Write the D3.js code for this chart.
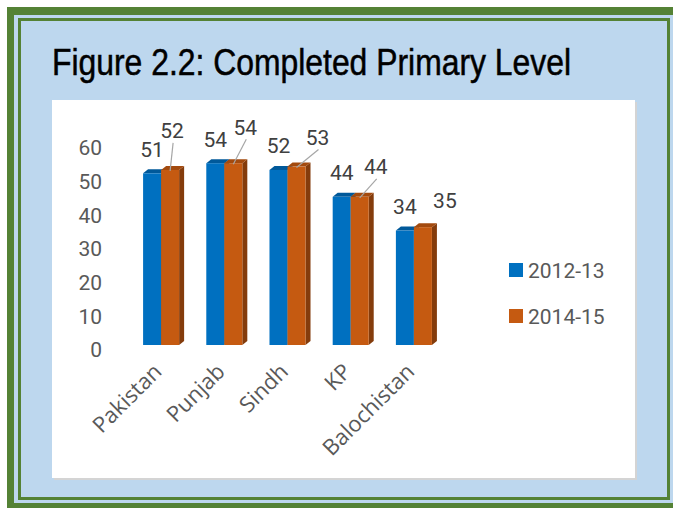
<!DOCTYPE html>
<html>
<head>
<meta charset="utf-8">
<script src="https://cdn.jsdelivr.net/npm/d3@7"></script>
<style>
  body { margin: 0; background: #fff; }
  svg { display: block; }
  .tick text { font-family: Roboto, sans-serif; font-size: 21px; fill: #595959; }
</style>
</head>
<body>
<div id="chart"></div>
<script>
// Chart data
var regions = ["Pakistan", "Punjab", "Sindh", "KP", "Balochistan"];
var years = ["2012-13", "2014-15"];
var values2012 = [51, 54, 52, 44, 34];
var values2014 = [52, 54, 53, 44, 35];
var yTicks = [0, 10, 20, 30, 40, 50, 60];

// Orange labels were dragged away from the bars in the original (dx, dy from bar top)
var orangeNudge = [[2, -39], [12, -36], [21, -29], [16, -30], [22, -27]];

var width = 673,
    height = 508,
    depthX = 5,
    depthY = 4;

var svg = d3.select("#chart").append("svg")
    .attr("width", width)
    .attr("height", height);

// Frame: outer green, light blue, thin green line, light blue panel
svg.append("rect")
    .attr("x", 7).attr("y", 7)
    .attr("width", 680).attr("height", 510)
    .style("fill", "#548235");
svg.append("rect")
    .attr("x", 14).attr("y", 15)
    .attr("width", 670).attr("height", 488)
    .style("fill", "#bdd7ee");
svg.append("rect")
    .attr("x", 19.5).attr("y", 19.5)
    .attr("width", 649).attr("height", 479)
    .style("fill", "#bdd7ee")
    .style("stroke", "#548235")
    .style("stroke-width", 3);

// Title (condensed face squeezed to the original width)
svg.append("text")
    .attr("x", 52)
    .attr("y", 75)
    .attr("textLength", 519)
    .attr("lengthAdjust", "spacingAndGlyphs")
    .style("font-family", "'Liberation Sans Narrow', 'Liberation Sans', sans-serif")
    .style("font-size", "36px")
    .style("fill", "#000")
    .style("stroke", "#000")
    .style("stroke-width", 0.5)
    .text("Figure 2.2: Completed Primary Level");

// White plot panel with light shadow
svg.append("rect")
    .attr("x", 54).attr("y", 102)
    .attr("width", 583).attr("height", 378)
    .style("fill", "#d4d4d4");
svg.append("rect")
    .attr("x", 52).attr("y", 100)
    .attr("width", 583).attr("height", 378)
    .style("fill", "#fff");

var x = d3.scaleBand()
    .domain(regions)
    .range([129.5, 445.5])
    .paddingInner(0.43)
    .paddingOuter(0.215);

var x1 = d3.scaleBand()
    .domain(years)
    .range([0, x.bandwidth()]);

var y = d3.scaleLinear()
    .domain([0, 60])
    .range([345, 143]);

var color = d3.scaleOrdinal()
    .domain(years)
    .range(["#0070c0", "#c55a11"]);
var topColor = d3.scaleOrdinal()
    .domain(years)
    .range(["#00599a", "#a34a0e"]);
var sideColor = d3.scaleOrdinal()
    .domain(years)
    .range(["#004a80", "#843c0c"]);

// y axis labels only
var yAxis = d3.axisLeft(y)
    .tickValues(yTicks)
    .tickSize(0)
    .tickPadding(0);

svg.append("g")
    .attr("transform", "translate(102,5)")
    .call(yAxis)
    .call(g => g.select(".domain").remove());

// rows of data
var rows = regions.map(function (r, i) {
    return { region: r, i: i, vals: [values2012[i], values2014[i]] };
});

var group = svg.selectAll(".region")
    .data(rows)
    .enter().append("g")
    .attr("class", "region")
    .attr("transform", d => "translate(" + x(d.region) + ",0)");

// blue first, orange drawn over its side face
group.each(function (d) {
    var g = d3.select(this);
    [0, 1].forEach(function (k) {
        var yr = years[k],
            v = d.vals[k],
            bx = x1(yr),
            bw = x1.bandwidth(),
            top = y(v),
            base = y(0);

        // side face
        g.append("path")
            .attr("d", "M" + (bx + bw) + "," + top +
                "L" + (bx + bw + depthX) + "," + (top - depthY) +
                "L" + (bx + bw + depthX) + "," + (base - depthY) +
                "L" + (bx + bw) + "," + base + "Z")
            .style("fill", sideColor(yr));
        // top face
        g.append("path")
            .attr("d", "M" + bx + "," + top +
                "L" + (bx + depthX) + "," + (top - depthY) +
                "L" + (bx + bw + depthX) + "," + (top - depthY) +
                "L" + (bx + bw) + "," + top + "Z")
            .style("fill", topColor(yr));
        // front face
        g.append("rect")
            .attr("x", bx)
            .attr("y", top)
            .attr("width", bw)
            .attr("height", base - top)
            .style("fill", color(yr));
    });

    // blue label straight above the bar
    var b0 = x1(years[0]) + x1.bandwidth() / 2;
    g.append("text")
        .attr("x", b0)
        .attr("y", y(d.vals[0]) - 24)
        .attr("dy", "0.36em")
        .attr("text-anchor", "middle")
        .style("font-family", "Roboto, sans-serif")
        .style("font-size", "21px")
        .style("fill", "#404040")
        .text(d.vals[0]);

    // orange label, nudged, with leader line
    var b1 = x1(years[1]) + x1.bandwidth() / 2,
        t1 = y(d.vals[1]),
        n = orangeNudge[d.i],
        lx = b1 + n[0],
        ly = t1 + n[1];
    if (d.i < regions.length - 1) {
        g.append("line")
            .attr("x1", lx + 1)
            .attr("y1", ly + 12)
            .attr("x2", b1)
            .attr("y2", t1 + 1)
            .style("stroke", "#a6a6a6")
            .style("stroke-width", 1.2);
    }
    g.append("text")
        .attr("x", lx)
        .attr("y", ly)
        .attr("dy", "0.36em")
        .attr("text-anchor", "middle")
        .style("font-family", "Roboto, sans-serif")
        .style("font-size", "21px")
        .style("fill", "#404040")
        .text(d.vals[1]);
});

// category labels rotated
svg.selectAll(".cat")
    .data(regions)
    .enter().append("text")
    .attr("class", "cat")
    .attr("text-anchor", "end")
    .attr("transform", d => "translate(" + (x(d) + x.bandwidth() / 2 + 2) + ",373) rotate(-45)")
    .style("font-family", "'Open Sans', sans-serif")
    .style("font-size", "22px")
    .style("fill", "#595959")
    .text(d => d);

// legend
var legend = svg.append("g").attr("class", "legend");
legend.selectAll("g")
    .data(years)
    .enter().append("g")
    .each(function (d, i) {
        var g = d3.select(this);
        g.append("rect")
            .attr("x", 509)
            .attr("y", 263 + i * 46)
            .attr("width", 14)
            .attr("height", 14)
            .style("fill", color(d));
        g.append("text")
            .attr("x", 528)
            .attr("y", 278 + i * 46)
            .style("font-family", "Roboto, sans-serif")
            .style("font-size", "21px")
            .style("fill", "#595959")
            .text(d);
    });
</script>
</body>
</html>
